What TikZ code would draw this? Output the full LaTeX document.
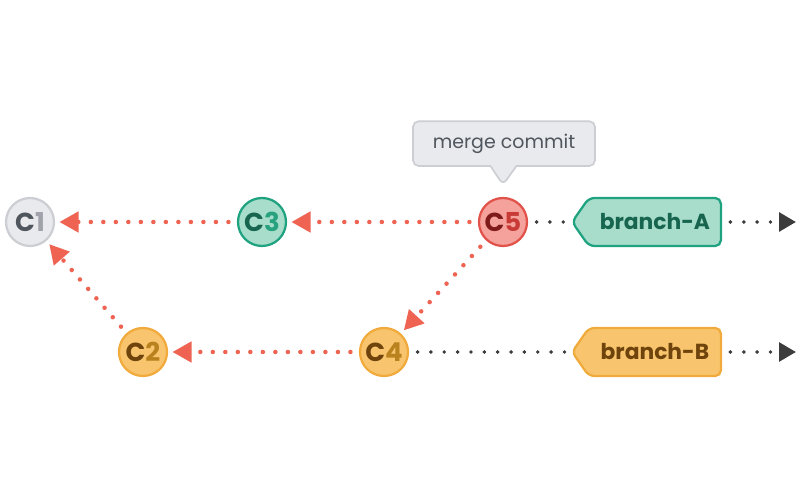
\documentclass[tikz,border=0pt]{standalone}
\usepackage{fontspec}
\setmainfont{Poppins}
\usetikzlibrary{positioning,arrows.meta,shapes.symbols,shapes.callouts}
\usepackage{xcolor}

\definecolor{grayfill}{HTML}{E9EAEE}
\definecolor{grayline}{HTML}{CDCED3}
\definecolor{graydark}{HTML}{50565D}
\definecolor{graylight}{HTML}{A0A4AA}
\definecolor{tealfill}{HTML}{A8DDCB}
\definecolor{tealline}{HTML}{1FA27F}
\definecolor{tealdark}{HTML}{17654F}
\definecolor{teallight}{HTML}{27A17E}
\definecolor{redfill}{HTML}{F4A29B}
\definecolor{redline}{HTML}{E1524B}
\definecolor{reddark}{HTML}{7E1A1A}
\definecolor{redlight}{HTML}{C73A36}
\definecolor{orfill}{HTML}{F8C56E}
\definecolor{orline}{HTML}{F1AA3C}
\definecolor{ordark}{HTML}{6E430C}
\definecolor{orlight}{HTML}{BA821E}
\definecolor{parentred}{HTML}{EE6352}
\definecolor{headgray}{HTML}{3C3C3C}

\begin{document}
\begin{tikzpicture}[
  commit/.style={circle, draw, line width=1.6pt, minimum size=1.2cm, inner sep=0pt, font=\bfseries\fontsize{18.5}{18.5}\selectfont},
  branchtag/.style={signal, signal to=west, signal pointer angle=110, draw, line width=1.6pt, rounded corners=4pt, minimum width=3.72cm, minimum height=1.2cm, font=\bfseries\fontsize{15.5}{15.5}\selectfont, anchor=east},
  parent/.style={parentred, line width=3.2pt, line cap=round, dash pattern=on 0pt off 8.9pt, shorten <=6pt, shorten >=3pt, -{Triangle[length=4.8mm, width=5mm, line cap=butt]}},
  ahead/.style={headgray, line width=2.8pt, line cap=round, dash pattern=on 0pt off 9.5pt, shorten <=6pt, -{Triangle[length=4.2mm, width=4.6mm]}},
  tieline/.style={headgray, line width=2.8pt, line cap=round, dash pattern=on 0pt off 9.5pt, shorten <=6pt}
]
\useasboundingbox (0,0) rectangle (20,12.5);

% commits
\node[commit, fill=grayfill, draw=grayline] (c1) at (0.75,6.95) {\color{graydark}C\color{graylight}1};
\node[commit, fill=orfill, draw=orline] (c2) at (3.575,3.7) {\color{ordark}C\color{orlight}2};
\node[commit, fill=tealfill, draw=tealline] (c3) at (6.55,6.95) {\color{tealdark}C\color{teallight}3};
\node[commit, fill=orfill, draw=orline] (c4) at (9.6,3.7) {\color{ordark}C\color{orlight}4};
\node[commit, fill=redfill, draw=redline] (c5) at (12.575,6.95) {\color{reddark}C\color{redlight}5};

% branch pointers
\node[branchtag, fill=tealfill, draw=tealline, text=tealdark] (brA) at (18.05,6.95) {branch-A};
\node[branchtag, fill=orfill, draw=orline, text=ordark] (brB) at (18.05,3.7) {branch-B};
\coordinate (endA) at (19.9,6.95);
\coordinate (endB) at (19.9,3.7);

% merge commit callout
\coordinate (tipM) at (12.575,7.88);
\node[rectangle callout, callout absolute pointer=(tipM), callout pointer width=0.65cm, draw=grayline, fill=grayfill, line width=1.2pt, rounded corners=4pt, minimum width=4.55cm, minimum height=1.12cm, text=graydark, font=\fontsize{13.5}{13.5}\selectfont] (mc) at (12.6,8.91) {merge commit};

% parent links
\draw[parent] (c3) -- (c1);
\draw[parent] (c5) -- (c3);
\draw[parent] (c5) -- (c4);
\draw[parent] (c4) -- (c2);
\draw[parent] (c2) -- (c1);

% branch heads
\draw[tieline] (c5) -- (brA.west);
\draw[tieline] (c4) -- (brB.west);
\draw[ahead] (brA.east) -- (endA);
\draw[ahead] (brB.east) -- (endB);
\end{tikzpicture}
\end{document}
